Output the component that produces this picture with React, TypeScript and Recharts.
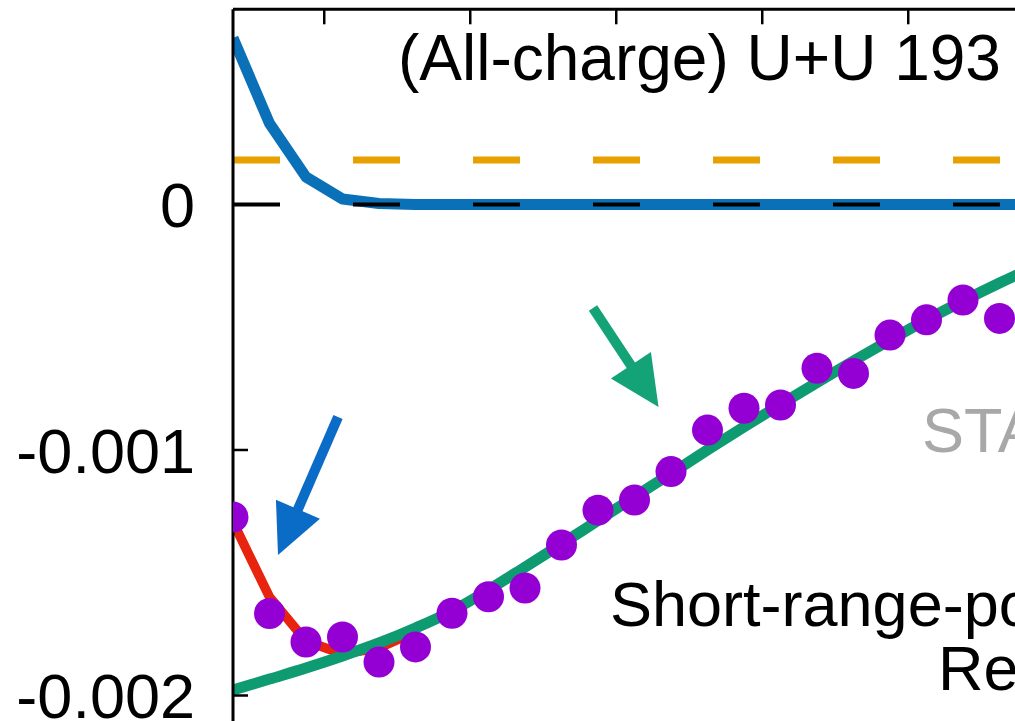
import React from 'react';
import { ComposedChart, Line, XAxis, YAxis, ReferenceLine } from 'recharts';

// Bin index along the horizontal axis
const binIndex = [0, 1, 2, 3, 4, 5, 6, 7, 8, 9, 10, 11, 12, 13, 14, 15, 16, 17, 18, 19, 20, 21];
// Measured correlator (filled circles)
const measured = [
  -0.001273, -0.001666, -0.001782, -0.001762, -0.001864, -0.001802, -0.001665, -0.001598,
  -0.001562, -0.001387, -0.001245, -0.001204, -0.001088, -0.000919, -0.00083, -0.000817,
  -0.000667, -0.000688, -0.000532, -0.00047, -0.000389, -0.000464,
];

// Smooth fit curve (green)
const fitIndex = [0, 1, 2, 3, 4, 5, 6, 7, 8, 9, 10, 11, 12, 13, 14, 15, 16, 17, 18, 19, 20, 21, 22];
const fitValues = [
  -0.001978, -0.001933, -0.001888, -0.001839, -0.001786, -0.001725, -0.001656, -0.00157,
  -0.001477, -0.001383, -0.001287, -0.001191, -0.001096, -0.001, -0.000906, -0.000815,
  -0.000725, -0.000637, -0.000552, -0.00047, -0.000393, -0.00032, -0.000251,
];

// Full fit including short-range part (red)
const fullFitIndex = [0, 1, 2, 3, 4, 5];
const fullFitValues = [-0.001293, -0.001599, -0.001778, -0.001831, -0.001806, -0.00174];

// Short-range component (blue)
const shortIndex = [0, 1, 2, 3, 4, 5, 6, 7, 8, 9, 10, 11, 12, 13, 14, 15, 16, 17, 18, 19, 20, 21, 22];
const shortValues = [
  0.000678, 0.00033, 0.000112, 0.000022, 0.000004, 0, 0, 0, 0, 0, 0, 0, 0, 0, 0, 0, 0, 0, 0, 0, 0, 0, 0,
];

// Constant offset level (orange dashed) and zero reference
const offsetLevel = 0.000181;
const zeroLevel = 0;

const xDomain = [0, 22.5];
const yDomain = [-0.0022, 0.000795];
const topTicks = [2.5, 6.5, 10.5, 14.5, 18.5];
const topTickDepth = 0.0000611; // inward tick length on the top border, in y units
const yTicks = [-0.002, -0.001, 0];
const yTickLabels = ['-0.002', '-0.001', '0'];

// Annotation arrows (tail -> tip, in data units)
const blueArrow = [{ x: 2.877, y: -0.000866 }, { x: 1.233, y: -0.001428 }];
const greenArrow = [{ x: 9.863, y: -0.000422 }, { x: 11.658, y: -0.000825 }];

const FONT = '"Liberation Sans", Arial, Helvetica, sans-serif';

const measuredData = binIndex.map((x, i) => ({ x, y: measured[i] }));
const fitData = fitIndex.map((x, i) => ({ x, y: fitValues[i] }));
const fullFitData = fullFitIndex.map((x, i) => ({ x, y: fullFitValues[i] }));
const shortData = shortIndex.map((x, i) => ({ x, y: shortValues[i] }));
const zeroData = [
  { x: xDomain[0], y: zeroLevel },
  { x: xDomain[1], y: zeroLevel },
];

const YTick = (props: any) => {
  const { x, y, payload } = props;
  const idx = yTicks.indexOf(payload.value);
  const label = idx >= 0 ? yTickLabels[idx] : String(payload.value);
  return (
    <g>
      <line x1={x + 38} x2={x + 53} y1={y} y2={y} stroke="#000" strokeWidth={2.5} />
      <text x={x} y={y} dy="0.36em" textAnchor="end" fontSize={63} fontFamily={FONT} fill="#000">
        {label}
      </text>
    </g>
  );
};

const makeArrow = (color: string) => (p: any) => {
  const { x1, y1, x2, y2 } = p;
  const dx = x2 - x1;
  const dy = y2 - y1;
  const len = Math.hypot(dx, dy) || 1;
  const ux = dx / len;
  const uy = dy / len;
  const headLen = 50;
  const halfW = 24;
  const bx = x2 - ux * headLen;
  const by = y2 - uy * headLen;
  const nx = -uy;
  const ny = ux;
  const pts = `${x2},${y2} ${bx + nx * halfW},${by + ny * halfW} ${bx - nx * halfW},${by - ny * halfW}`;
  return (
    <g>
      <line x1={x1} y1={y1} x2={bx + ux * 4} y2={by + uy * 4} stroke={color} strokeWidth={10} />
      <polygon points={pts} fill={color} />
    </g>
  );
};

export default function App() {
  return (
    <div
      style={{
        position: 'fixed',
        left: 0,
        top: 0,
        width: 1015,
        height: 721,
        overflow: 'hidden',
        background: '#fff',
      }}
    >
      <ComposedChart
        width={1060}
        height={745}
        margin={{ top: 0, right: 5.75, bottom: 0.4, left: 0 }}
      >
        <ReferenceLine
          y={offsetLevel}
          stroke="#e6a000"
          strokeWidth={7}
          strokeDasharray="47 73"
          ifOverflow="extendDomain"
        />
        <Line
          data={measuredData}
          dataKey="y"
          stroke="none"
          dot={{ r: 15.5, fill: '#9400d3', stroke: 'none', strokeWidth: 0 }}
          isAnimationActive={false}
        />
        <Line
          data={fullFitData}
          dataKey="y"
          type="linear"
          stroke="#e8230e"
          strokeWidth={9.5}
          strokeLinejoin="round"
          dot={false}
          isAnimationActive={false}
        />
        <Line
          data={fitData}
          dataKey="y"
          type="monotone"
          stroke="#0e9b72"
          strokeWidth={11}
          dot={false}
          isAnimationActive={false}
        />
        <Line
          data={shortData}
          dataKey="y"
          type="linear"
          stroke="#0a71b8"
          strokeWidth={11}
          strokeLinejoin="round"
          dot={false}
          isAnimationActive={false}
        />
        <Line
          data={zeroData}
          dataKey="y"
          type="linear"
          stroke="#000"
          strokeWidth={4}
          strokeDasharray="47 73"
          dot={false}
          isAnimationActive={false}
        />
        <ReferenceLine segment={blueArrow} shape={makeArrow('#0a6cc6')} />
        <ReferenceLine segment={greenArrow} shape={makeArrow('#13a377')} />
        <ReferenceLine y={yDomain[1]} stroke="#000" strokeWidth={3} />
        {topTicks.map((t) => (
          <ReferenceLine
            key={t}
            segment={[
              { x: t, y: yDomain[1] },
              { x: t, y: yDomain[1] - topTickDepth },
            ]}
            stroke="#000"
            strokeWidth={2.5}
          />
        ))}
        <XAxis
          type="number"
          dataKey="x"
          domain={xDomain}
          ticks={topTicks}
          orientation="top"
          height={9.3}
          tick={false}
          axisLine={false}
          tickLine={false}
          allowDataOverflow
        />
        <YAxis
          type="number"
          domain={yDomain}
          ticks={yTicks}
          interval={0}
          width={233}
          tickSize={0}
          tickMargin={38}
          tick={<YTick />}
          axisLine={{ stroke: '#000', strokeWidth: 3 }}
          allowDataOverflow
        />
      </ComposedChart>
      <svg
        width={1015}
        height={721}
        style={{ position: 'absolute', left: 0, top: 0, pointerEvents: 'none' }}
      >
        <text x={398} y={80} fontSize={64} fontFamily={FONT} fill="#000">
          (All-charge) U+U 193
        </text>
        <text x={922} y={452} fontSize={63} fontFamily={FONT} fill="#a8a8a8">
          STA
        </text>
        <text x={610} y={626} fontSize={63} fontFamily={FONT} fill="#000">
          Short-range-po
        </text>
        <text x={938} y={690} fontSize={63} fontFamily={FONT} fill="#000">
          Re
        </text>
      </svg>
    </div>
  );
}
